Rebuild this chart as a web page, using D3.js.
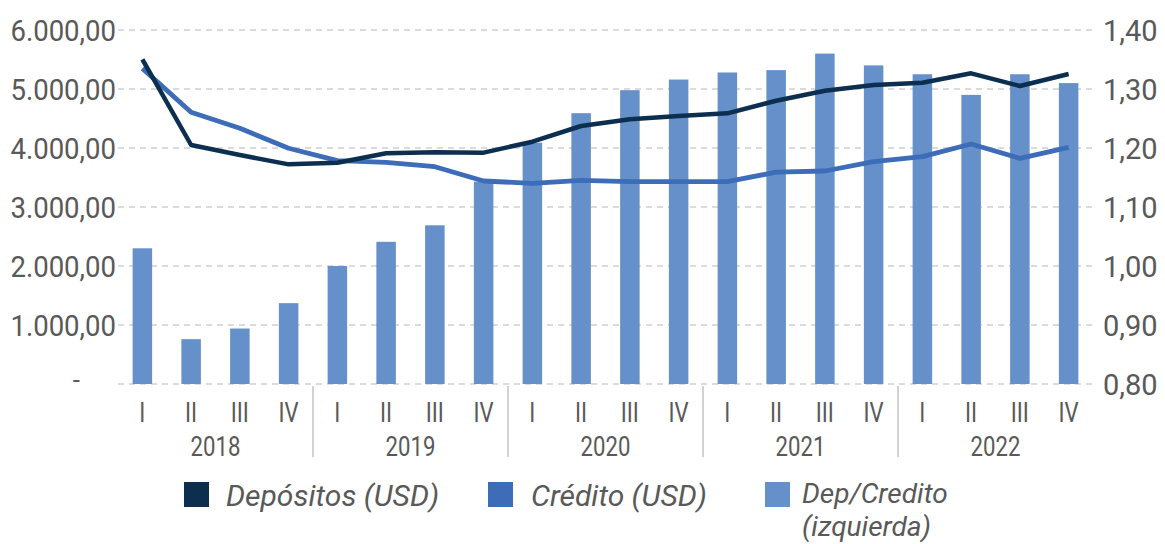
<!DOCTYPE html>
<html><head><meta charset="utf-8">
<script src="https://cdn.jsdelivr.net/npm/d3@7"></script>
<style>
html,body{margin:0;padding:0;background:#fff;}
svg text{font-family:Roboto,"Noto Sans",sans-serif;fill:#595959;}
</style></head>
<body>
<svg id="c" width="1165" height="544"></svg>
<script>
const years = ["2018","2019","2020","2021","2022"];
const quarters = ["I","II","III","IV"];
const categories = years.flatMap(y => quarters.map(q => y + "-" + q));
const depositos = [5503,4051,3881,3723,3751,3910,3927,3921,4107,4373,4486,4542,4588,4800,4971,5068,5107,5266,5051,5254];
const credito = [5350,4605,4334,3995,3785,3757,3683,3441,3402,3452,3429,3429,3429,3590,3610,3768,3853,4068,3825,4011];
const ratio = [1.030,0.876,0.894,0.937,1.000,1.041,1.069,1.143,1.209,1.259,1.298,1.316,1.328,1.332,1.360,1.340,1.325,1.290,1.325,1.310];
const leftTicks = [0,1000,2000,3000,4000,5000,6000];
const rightTicks = [0.8,0.9,1.0,1.1,1.2,1.3,1.4];
const legendLabels = ["Depósitos (USD)","Crédito (USD)","Dep/Credito","(izquierda)"];

const colDep = "#0c2f4f", colCred = "#3d6cb9", colBar = "#6590ca";
const svg = d3.select("#c");
const x = d3.scaleBand().domain(categories).range([118,1093]).paddingInner(0.6).paddingOuter(0.3);
const yL = d3.scaleLinear().domain([0,6000]).range([384,30]);
const yR = d3.scaleLinear().domain([0.8,1.4]).range([384,30]);

const fmtL = v => v === 0 ? "" : d3.format(",.2f")(v).replace(/,/g,"#").replace(/\./g,",").replace(/#/g,".");
const fmtR = v => d3.format(".2f")(v).replace(".",",");
function condense(sel, f){
  sel.each(function(){
    const L = this.getComputedTextLength();
    if (L > 0) d3.select(this).attr("textLength", L*f).attr("lengthAdjust","spacingAndGlyphs");
  });
}

// gridlines
svg.append("g").selectAll("line").data(leftTicks).join("line")
  .attr("x1",118).attr("x2",1093).attr("y1",d=>yL(d)).attr("y2",d=>yL(d))
  .attr("stroke","#cfcfcf").attr("stroke-width",1.5).attr("stroke-dasharray","6,5");

// left axis
const gl = svg.append("g").attr("transform","translate(116,0)")
  .call(d3.axisLeft(yL).tickValues(leftTicks).tickFormat(fmtL).tickSize(0).tickPadding(0));
gl.select(".domain").remove();
gl.selectAll("text").style("font-size","29px").attr("fill","#595959").attr("dy","0.36em");
condense(gl.selectAll("text"), 0.95);
svg.append("text").attr("x",80).attr("y",yL(0)).attr("dy","0.2em").attr("text-anchor","end").style("font-size","26px").text("-");

// right axis
const gr = svg.append("g").attr("transform","translate(1093,0)")
  .call(d3.axisRight(yR).tickValues(rightTicks).tickFormat(fmtR).tickSize(0).tickPadding(10));
gr.select(".domain").remove();
gr.selectAll("text").style("font-size","29px").attr("fill","#595959").attr("dy","0.36em");

// bars
svg.append("g").selectAll("rect").data(ratio).join("rect")
  .attr("x",(d,i)=>x(categories[i])).attr("width",x.bandwidth())
  .attr("y",d=>yR(d)).attr("height",d=>yR(0.8)-yR(d)).attr("fill",colBar);

// lines
const line = d3.line().x((d,i)=>x(categories[i])+x.bandwidth()/2).y(d=>yL(d));
svg.append("path").datum(credito).attr("d",line).attr("fill","none").attr("stroke",colCred).attr("stroke-width",4.8).attr("stroke-linejoin","round");
svg.append("path").datum(depositos).attr("d",line).attr("fill","none").attr("stroke",colDep).attr("stroke-width",4.5).attr("stroke-linejoin","round");

// x axis labels
const ql = svg.append("g").selectAll("text").data(categories).join("text")
  .attr("x",d=>x(d)+x.bandwidth()/2).attr("y",412.5).attr("dy","0.36em").attr("text-anchor","middle")
  .style("font-size","27px").text(d=>d.split("-")[1]);
condense(ql, 0.82);
const yl = svg.append("g").selectAll("text").data(years).join("text")
  .attr("x",(y,i)=>(x(y+"-I")+x(y+"-IV")+x.bandwidth())/2).attr("y",446).attr("dy","0.36em").attr("text-anchor","middle")
  .style("font-size","27px").text(d=>d);
condense(yl, 0.82);
svg.append("g").selectAll("line").data(years.slice(1)).join("line")
  .attr("x1",d=>x(d+"-I")-x.step()*x.paddingInner()/2).attr("x2",d=>x(d+"-I")-x.step()*x.paddingInner()/2)
  .attr("y1",386).attr("y2",457).attr("stroke","#a6a6a6").attr("stroke-width",1);

// legend
const leg = [[184,226,colDep,[legendLabels[0]]],[488,531,colCred,[legendLabels[1]]],[765,802,colBar,[legendLabels[2],legendLabels[3]]]];
leg.forEach(([lx,tx,c,labs])=>{
  svg.append("rect").attr("x",lx).attr("y",482).attr("width",25).attr("height",25).attr("fill",c);
  const multi = labs.length > 1;
  labs.forEach((s,j)=>svg.append("text").attr("x",tx).attr("y",(multi?503:506)+j*33)
    .style("font-size",multi?"28px":"30px").style("font-style","italic").text(s));
});
</script>
</body></html>
